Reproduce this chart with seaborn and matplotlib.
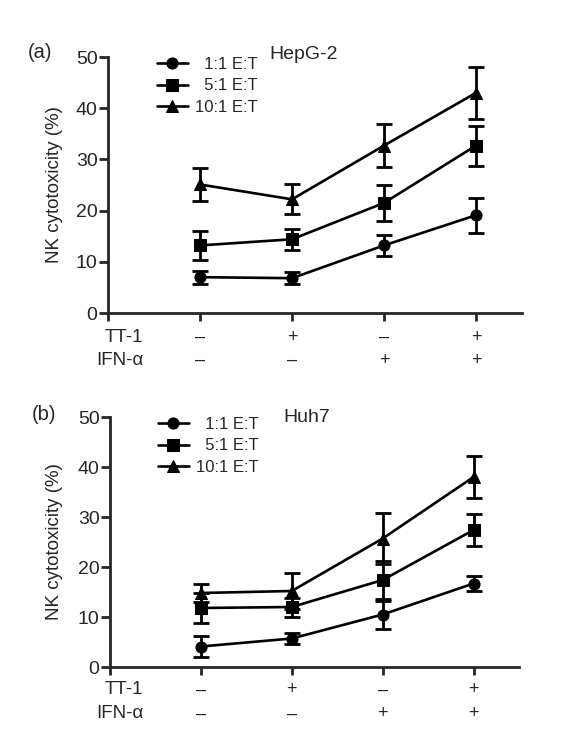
import numpy as np
import pandas as pd
import matplotlib
matplotlib.use("Agg")
import matplotlib.pyplot as plt
import seaborn as sns

# conditions (x positions 0..3)
conditions = [0, 1, 2, 3]
tt1_signs = ["\u2013", "+", "\u2013", "+"]
ifn_signs = ["\u2013", "\u2013", "+", "+"]
ratios = ["1:1 E:T", "5:1 E:T", "10:1 E:T"]
markers = ["o", "s", "^"]

# HepG-2 means / SD
hepg2_11 = [7.0, 6.8, 13.2, 19.1]
hepg2_11_sd = [1.3, 1.2, 2.1, 3.4]
hepg2_51 = [13.2, 14.4, 21.5, 32.7]
hepg2_51_sd = [2.8, 2.0, 3.5, 3.9]
hepg2_101 = [25.1, 22.2, 32.7, 43.0]
hepg2_101_sd = [3.2, 2.9, 4.2, 5.1]

# Huh7 means / SD
huh7_11 = [4.1, 5.7, 10.5, 16.7]
huh7_11_sd = [2.1, 1.1, 2.8, 1.5]
huh7_51 = [11.8, 12.0, 17.4, 27.4]
huh7_51_sd = [3.0, 1.9, 3.8, 3.2]
huh7_101 = [14.8, 15.2, 25.7, 38.0]
huh7_101_sd = [1.8, 3.6, 5.1, 4.2]

FONT = ["Liberation Sans", "DejaVu Sans"]
sns.set_style("ticks")
plt.rcParams["font.family"] = FONT
plt.rcParams["axes.linewidth"] = 2.0
plt.rcParams["xtick.major.width"] = 2.0
plt.rcParams["ytick.major.width"] = 2.0
plt.rcParams["xtick.major.size"] = 5.5
plt.rcParams["ytick.major.size"] = 6.5

fig = plt.figure(figsize=(5.75, 7.47), dpi=100)


def draw_panel(rect, means, sds, cell, tag, tag_xy, cell_xy, leg_anchor, row_y, lab_x):
    ax = fig.add_axes(rect)
    rows = []
    for ratio, m in zip(ratios, means):
        for c, v in zip(conditions, m):
            rows.append({"cond": c, "val": v, "ratio": ratio})
    df = pd.DataFrame(rows)
    for ratio, mk, m, sd in zip(ratios, markers, means, sds):
        sub = df[df["ratio"] == ratio]
        ax.errorbar(conditions, m, yerr=sd, fmt="none", ecolor="black",
                    elinewidth=2.0, capsize=5.5, capthick=2.0, zorder=2)
        # pad short labels with figure spaces so they line up on the right
        lab = ratio if ratio.startswith("10") else "\u2007" + ratio
        sns.lineplot(data=sub, x="cond", y="val", ax=ax, color="black",
                     marker=mk, markersize=8 if mk != "^" else 8.5,
                     markeredgecolor="black", linewidth=1.9,
                     label=lab, zorder=3)
    ax.set_xlim(-1, 3.5)
    ax.set_ylim(0, 50)
    ax.set_yticks([0, 10, 20, 30, 40, 50])
    ax.set_xticks([-1] + conditions)
    ax.set_xticklabels([""] * 5)
    ax.tick_params(axis="y", labelsize=14, pad=1)
    ax.set_xlabel("")
    ax.set_ylabel("NK cytotoxicity (%)", fontsize=13.5)
    ax.yaxis.set_label_coords(lab_x, 0.5)
    sns.despine(ax=ax)

    ax.legend(loc="upper left", bbox_to_anchor=leg_anchor, frameon=False,
              fontsize=12, handlelength=1.85, handletextpad=0.45,
              labelspacing=0.38, borderaxespad=0, borderpad=0)
    ax.text(cell_xy[0], cell_xy[1], cell, transform=ax.transAxes, fontsize=14,
            ha="left", va="center")

    trans = matplotlib.transforms.blended_transform_factory(ax.transData, ax.transAxes)
    ax.text(row_y[0], row_y[1], "TT-1", transform=ax.transAxes, ha="right",
            va="center", fontsize=13.5)
    ax.text(row_y[0], row_y[2], "IFN-\u03b1", transform=ax.transAxes, ha="right",
            va="center", fontsize=13.5)
    for c, s1, s2 in zip(conditions, tt1_signs, ifn_signs):
        ax.text(c, row_y[1], s1, transform=trans, ha="center", va="center", fontsize=13)
        ax.text(c, row_y[2], s2, transform=trans, ha="center", va="center", fontsize=13)
    fig.text(tag_xy[0], tag_xy[1], tag, fontsize=14.5, ha="left", va="center")
    return ax


draw_panel([108 / 575, 1 - 313 / 747, 414 / 575, 256 / 747],
           [hepg2_11, hepg2_51, hepg2_101],
           [hepg2_11_sd, hepg2_51_sd, hepg2_101_sd],
           "HepG-2", "(a)", (28 / 575, 1 - 52 / 747), (0.389, 1.008),
           (0.118, 1.0), (0.085, -0.094, -0.184), -0.109)

draw_panel([110 / 575, 1 - 667 / 747, 409 / 575, 250 / 747],
           [huh7_11, huh7_51, huh7_101],
           [huh7_11_sd, huh7_51_sd, huh7_101_sd],
           "Huh7", "(b)", (32 / 575, 1 - 415 / 747), (0.425, 0.996),
           (0.117, 1.0), (0.081, -0.092, -0.188), -0.115)

fig.savefig("out.png", dpi=100)
